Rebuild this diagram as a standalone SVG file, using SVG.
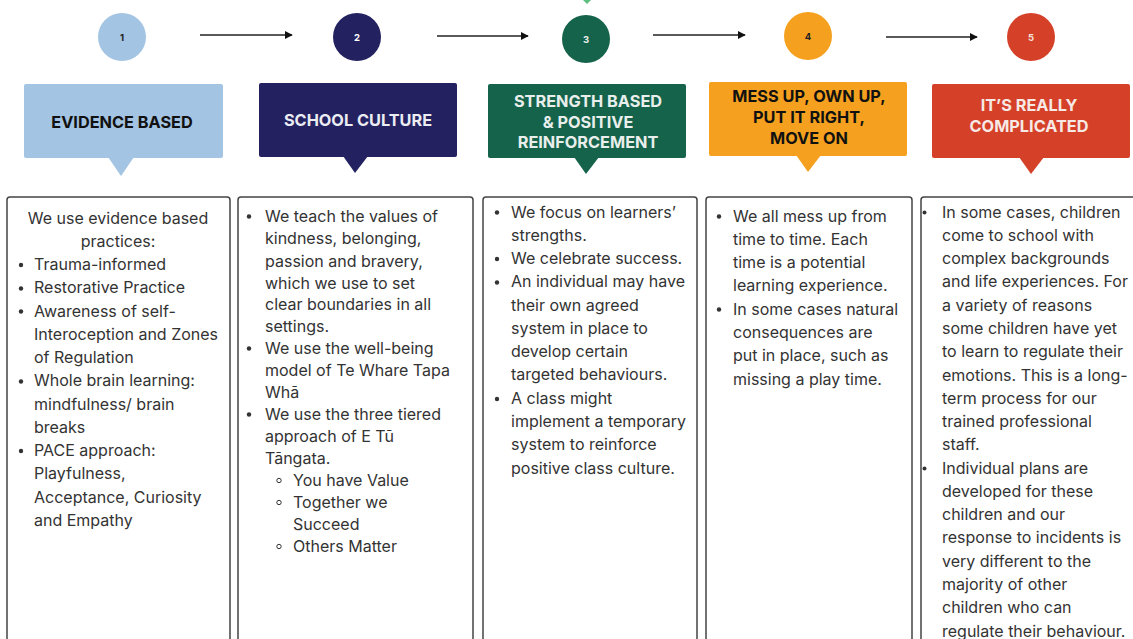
<svg xmlns="http://www.w3.org/2000/svg" width="1133" height="639" viewBox="0 0 1133 639">
<defs>
<marker id="ah" viewBox="0 0 10 10" refX="9" refY="5" markerWidth="5" markerHeight="5" orient="auto" markerUnits="strokeWidth">
<path d="M0,0 L10,5 L0,10 z" fill="#111"/>
</marker>
</defs>
<style>
.num{font-family:Inter,"Liberation Sans",sans-serif;font-size:9.5px;font-weight:700;text-anchor:middle}
.hd{font-family:Inter,"Liberation Sans",sans-serif;font-size:16.3px;font-weight:700;text-anchor:middle}
.bx{fill:#fff;stroke:#444;stroke-width:1.5}
.t{font-family:Inter,"Liberation Sans",sans-serif;font-size:16px;fill:#333}
.b{fill:#333}
.sb{fill:none;stroke:#333;stroke-width:1}
.ar{stroke:#222;stroke-width:1.6;fill:none}
</style>
<rect width="1133" height="639" fill="#fff"/>

<g id="connectors">
<line class="ar" x1="200" y1="35" x2="292" y2="35" marker-end="url(#ah)"/>
<line class="ar" x1="437" y1="36" x2="528" y2="36" marker-end="url(#ah)"/>
<line class="ar" x1="653" y1="35" x2="745" y2="35" marker-end="url(#ah)"/>
<line class="ar" x1="886" y1="37" x2="977" y2="37" marker-end="url(#ah)"/>
</g>

<g id="mark">
<polygon points="583,0 591,0 587,4" fill="#5cbf7f"/>
</g>

<g id="step1">
<circle cx="122" cy="37" r="24" fill="#a3c4e2"/>
<text class="num" x="122" y="40.5" fill="#222">1</text>
</g>
<g id="step2">
<circle cx="357" cy="37" r="24" fill="#23215f"/>
<text class="num" x="357" y="40.5" fill="#fff">2</text>
</g>
<g id="step3">
<circle cx="586" cy="39" r="24" fill="#15634b"/>
<text class="num" x="586" y="42.5" fill="#e8eee9">3</text>
</g>
<g id="step4">
<circle cx="808" cy="36" r="24" fill="#f5a11f"/>
<text class="num" x="808" y="39.5" fill="#222">4</text>
</g>
<g id="step5">
<circle cx="1031" cy="37" r="24" fill="#d54128"/>
<text class="num" x="1031" y="40.5" fill="#f3e0dc">5</text>
</g>

<g id="header1">
<rect x="24" y="84" width="199" height="74" rx="2" fill="#a3c4e2"/>
<polygon points="108,157 134,157 121,176" fill="#a3c4e2"/>
<text class="hd" x="122" y="128" fill="#111">EVIDENCE BASED</text>
</g>
<g id="header2">
<rect x="259" y="83" width="198" height="74" rx="2" fill="#23215f"/>
<polygon points="343,156 368,156 355,173" fill="#23215f"/>
<text class="hd" x="358" y="126" fill="#ececf3">SCHOOL CULTURE</text>
</g>
<g id="header3">
<rect x="488" y="84" width="198" height="74" rx="2" fill="#15634b"/>
<polygon points="574,157 599,157 586,174" fill="#15634b"/>
<text class="hd" fill="#e9efec"><tspan x="588" y="107">STRENGTH BASED</tspan><tspan x="588" y="127.5">&amp; POSITIVE</tspan><tspan x="588" y="148">REINFORCEMENT</tspan></text>
</g>
<g id="header4">
<rect x="709" y="82" width="198" height="74" rx="2" fill="#f5a11f"/>
<polygon points="796,155 821,155 808,172" fill="#f5a11f"/>
<text class="hd" fill="#111"><tspan x="809" y="102">MESS UP, OWN UP,</tspan><tspan x="809" y="123">PUT IT RIGHT,</tspan><tspan x="809" y="144">MOVE ON</tspan></text>
</g>
<g id="header5">
<rect x="932" y="84" width="198" height="74" rx="2" fill="#d54128"/>
<polygon points="1019,157 1044,157 1031,174" fill="#d54128"/>
<text class="hd" fill="#f6e9e6"><tspan x="1029" y="111">IT’S REALLY</tspan><tspan x="1029" y="132">COMPLICATED</tspan></text>
</g>

<g id="body1">
<rect class="bx" x="7" y="197" width="223" height="460" rx="3"/>
<text class="t" x="118" y="223.5" text-anchor="middle">We use evidence based</text>
<text class="t" x="118" y="246.75" text-anchor="middle">practices:</text>
<g class="b">
<circle cx="21" cy="265" r="2.2"/><circle cx="21" cy="288.5" r="2.2"/><circle cx="21" cy="311.5" r="2.2"/><circle cx="21" cy="381.5" r="2.2"/><circle cx="21" cy="451" r="2.2"/>
</g>
<text class="t">
<tspan x="34" y="270">Trauma-informed</tspan>
<tspan x="34" y="293.25">Restorative Practice</tspan>
<tspan x="34" y="316.5">Awareness of self-</tspan>
<tspan x="34" y="339.75">Interoception and Zones</tspan>
<tspan x="34" y="363">of Regulation</tspan>
<tspan x="34" y="386.25">Whole brain learning:</tspan>
<tspan x="34" y="409.5">mindfulness/ brain</tspan>
<tspan x="34" y="432.75">breaks</tspan>
<tspan x="34" y="456">PACE approach:</tspan>
<tspan x="34" y="479.25">Playfulness,</tspan>
<tspan x="34" y="502.5">Acceptance, Curiosity</tspan>
<tspan x="34" y="525.75">and Empathy</tspan>
</text>
</g>

<g id="body2">
<rect class="bx" x="238" y="197" width="235" height="460" rx="3"/>
<g class="b">
<circle cx="249" cy="216.5" r="2.2"/><circle cx="249" cy="348.5" r="2.2"/><circle cx="249" cy="414.5" r="2.2"/>
</g>
<g class="sb">
<circle cx="279" cy="480.5" r="2.2"/><circle cx="279" cy="502.5" r="2.2"/><circle cx="279" cy="546.5" r="2.2"/>
</g>
<text class="t">
<tspan x="265" y="221.5">We teach the values of</tspan>
<tspan x="265" y="244">kindness, belonging,</tspan>
<tspan x="265" y="266.5">passion and bravery,</tspan>
<tspan x="265" y="288.5">which we use to set</tspan>
<tspan x="265" y="309.5">clear boundaries in all</tspan>
<tspan x="265" y="331.5">settings.</tspan>
<tspan x="265" y="353.5">We use the well-being</tspan>
<tspan x="265" y="375.5">model of Te Whare Tapa</tspan>
<tspan x="265" y="397.5">Whā</tspan>
<tspan x="265" y="419.5">We use the three tiered</tspan>
<tspan x="265" y="441.5">approach of E Tū</tspan>
<tspan x="265" y="463.5">Tāngata.</tspan>
<tspan x="293" y="485.5">You have Value</tspan>
<tspan x="293" y="507.5">Together we</tspan>
<tspan x="293" y="529.5">Succeed</tspan>
<tspan x="293" y="551.5">Others Matter</tspan>
</text>
</g>

<g id="body3">
<rect class="bx" x="483" y="197" width="214" height="460" rx="3"/>
<g class="b">
<circle cx="497" cy="212.5" r="2.2"/><circle cx="497" cy="259" r="2.2"/><circle cx="497" cy="282.5" r="2.2"/><circle cx="497" cy="399" r="2.2"/>
</g>
<text class="t">
<tspan x="511" y="217.5">We focus on learners’</tspan>
<tspan x="511" y="240.8">strengths.</tspan>
<tspan x="511" y="264">We celebrate success.</tspan>
<tspan x="511" y="287.3">An individual may have</tspan>
<tspan x="511" y="310.6">their own agreed</tspan>
<tspan x="511" y="333.9">system in place to</tspan>
<tspan x="511" y="357.1">develop certain</tspan>
<tspan x="511" y="380.4">targeted behaviours.</tspan>
<tspan x="511" y="403.7">A class might</tspan>
<tspan x="511" y="426.9">implement a temporary</tspan>
<tspan x="511" y="450.2">system to reinforce</tspan>
<tspan x="511" y="473.5">positive class culture.</tspan>
</text>
</g>

<g id="body4">
<rect class="bx" x="706" y="197" width="206" height="460" rx="3"/>
<g class="b">
<circle cx="719" cy="216.5" r="2.2"/><circle cx="719" cy="309.5" r="2.2"/>
</g>
<text class="t">
<tspan x="733" y="221.5">We all mess up from</tspan>
<tspan x="733" y="244.8">time to time. Each</tspan>
<tspan x="733" y="268.1">time is a potential</tspan>
<tspan x="733" y="291.4">learning experience.</tspan>
<tspan x="733" y="314.7">In some cases natural</tspan>
<tspan x="733" y="338">consequences are</tspan>
<tspan x="733" y="361.3">put in place, such as</tspan>
<tspan x="733" y="384.6">missing a play time.</tspan>
</text>
</g>

<g id="body5">
<rect class="bx" x="921" y="197" width="225" height="460" rx="3"/>
<g class="b">
<circle cx="924.5" cy="212.5" r="2"/><circle cx="924.5" cy="468.5" r="2"/>
</g>
<text class="t">
<tspan x="942" y="217.5">In some cases, children</tspan>
<tspan x="942" y="240.8">come to school with</tspan>
<tspan x="942" y="264.1">complex backgrounds</tspan>
<tspan x="942" y="287.4">and life experiences. For</tspan>
<tspan x="942" y="310.6">a variety of reasons</tspan>
<tspan x="942" y="333.9">some children have yet</tspan>
<tspan x="942" y="357.2">to learn to regulate their</tspan>
<tspan x="942" y="380.5">emotions. This is a long-</tspan>
<tspan x="942" y="403.7">term process for our</tspan>
<tspan x="942" y="427">trained professional</tspan>
<tspan x="942" y="450.3">staff.</tspan>
<tspan x="942" y="473.6">Individual plans are</tspan>
<tspan x="942" y="496.8">developed for these</tspan>
<tspan x="942" y="520.1">children and our</tspan>
<tspan x="942" y="543.4">response to incidents is</tspan>
<tspan x="942" y="566.7">very different to the</tspan>
<tspan x="942" y="589.9">majority of other</tspan>
<tspan x="942" y="613.2">children who can</tspan>
<tspan x="942" y="636.5">regulate their behaviour.</tspan>
</text>
</g>
</svg>
